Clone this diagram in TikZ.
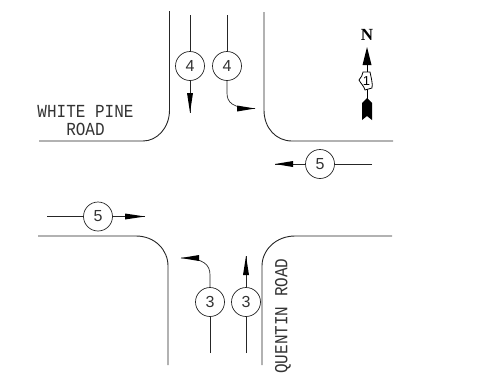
\documentclass[tikz,border=0pt]{standalone}
\usepackage{fontspec}
\usepackage{graphicx}
\setmainfont{Liberation Sans}
\newfontfamily\nfont{Liberation Serif}
\newfontfamily\cadfont{Liberation Mono}
\newcommand{\tallcad}[1]{\scalebox{1}[1.15]{#1}}
\tikzset{
 kerb/.style={line width=0.9pt,black!85},
 lane/.style={line width=0.7pt,black!85},
 vol/.style={circle,draw=black!85,line width=0.7pt,fill=white,minimum size=29pt,inner sep=0pt,font=\fontsize{16}{16}\selectfont,text=black!80},
 lab/.style={font=\cadfont\fontsize{16}{17}\selectfont,text=black!80,align=center,inner sep=0pt},
 tip/.style={fill=black,draw=none}
}
\begin{document}
\begin{tikzpicture}[x=1pt,y=-1pt]
\useasboundingbox (0,0) rectangle (490,381);
% kerbs
\draw[kerb] (169.5,11) -- (169.5,110) .. controls (169.5,128) and (157,141) .. (143,141) -- (39,141);
\draw[kerb] (264,12) -- (264,110) .. controls (264,128) and (276,141) .. (292,141) -- (393,141);
\draw[kerb] (38,236) -- (136,236) .. controls (155,236) and (168,250) .. (168,266) -- (168,365);
\draw[kerb] (392,236) -- (295,236) .. controls (276,236) and (262,250) .. (262,266) -- (262,365);
% volumes
\node[vol] (a) at (190,66) {4};
\node[vol] (b) at (227,66) {4};
\node[vol] (c) at (320,164) {5};
\node[vol] (d) at (98,216.5) {5};
\node[vol] (e) at (210,302) {3};
\node[vol] (f) at (246,302) {3};
\coordinate (a0) at (190,15); \coordinate (a1) at (190,112.5);
\coordinate (b0) at (227,15); \coordinate (b1) at (255,108.5);
\coordinate (c0) at (372,164); \coordinate (c1) at (275,164);
\coordinate (d0) at (47,216.5); \coordinate (d1) at (145,216.5);
\coordinate (e0) at (210,353); \coordinate (e1) at (181,258);
\coordinate (f0) at (246,353); \coordinate (f1) at (246,256);
\draw[lane] (a0) -- (a); \draw[lane] (a) -- (a1);
\draw[lane] (b0) -- (b); \draw[lane] (b) -- (227,93) .. controls (227,102) and (232,108.5) .. (b1);
\draw[lane] (c0) -- (c); \draw[lane] (c) -- (c1);
\draw[lane] (d0) -- (d); \draw[lane] (d) -- (d1);
\draw[lane] (e0) -- (e); \draw[lane] (e) -- (210,275) .. controls (210,265) and (204,258) .. (e1);
\draw[lane] (f0) -- (f); \draw[lane] (f) -- (f1);
\fill[tip] (a1) -- (187,93) -- (193,93) -- cycle;
\fill[tip] (b1) -- (237,105.5) -- (237,111.5) -- cycle;
\fill[tip] (c1) -- (293,161) -- (293,167) -- cycle;
\fill[tip] (d1) -- (125,213.5) -- (125,219.5) -- cycle;
\fill[tip] (e1) -- (199,255) -- (199,261) -- cycle;
\fill[tip] (f1) -- (243,275) -- (249,275) -- cycle;
% labels
\node[lab] (wp) at (85.5,111) {\tallcad{WHITE PINE}};
\node[lab] (wp2) at (85.5,129) {\tallcad{ROAD}};
\node[lab,rotate=90] (qr) at (283,316) {\tallcad{QUENTIN ROAD}};
% north arrow
\node[font=\nfont\bfseries\fontsize{17}{17}\selectfont,inner sep=0pt] (n) at (367,35) {N};
\draw[line width=0.7pt] (367,60) -- (367,100);
\fill[tip] (367,47) -- (362.5,65) -- (371.5,65) -- cycle;
\fill[tip] (367,98) -- (372,103) -- (372,120) -- (367,116) -- (362,120) -- (362,103) -- cycle;
\draw[line width=0.8pt,fill=white] (363,72) -- (370,72) .. controls (371,77) and (373,84) .. (372,88) -- (365,90) .. controls (364,86) and (361,84) .. (359,80) .. controls (361,77) and (363,75) .. (363,72) -- cycle;
\node[font=\fontsize{13}{13}\selectfont,inner sep=0pt] (one) at (366.5,81) {1};
\end{tikzpicture}
\end{document}
